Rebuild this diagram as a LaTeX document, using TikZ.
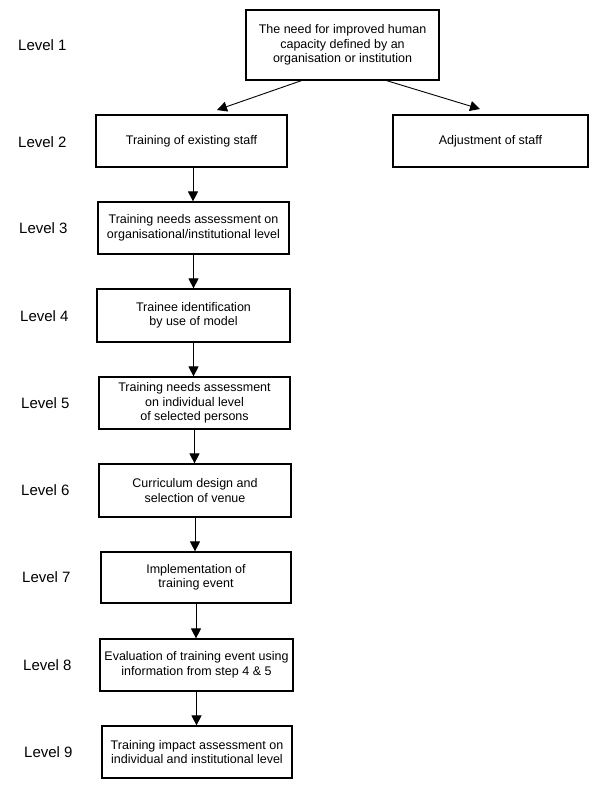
\documentclass[tikz,border=0pt]{standalone}
\usepackage{fontspec}
\setmainfont{Liberation Sans}
\usetikzlibrary{arrows.meta}
\tikzset{
  stepbox/.style={draw, line width=1.2pt, inner sep=0pt, align=center,
    font=\fontsize{12.5}{14.5}\selectfont},
  levellabel/.style={anchor=west, inner sep=0pt, font=\fontsize{15}{17}\selectfont},
  arr/.style={line width=0.9pt, -{Triangle[length=10pt,width=10pt]}}
}
\begin{document}
\begin{tikzpicture}[x=1pt,y=-1pt]
\useasboundingbox (0,0) rectangle (600,786);
\fill[white] (0,0) rectangle (600,786);
% boxes
\node[stepbox, minimum width=193pt, minimum height=70pt] (top) at (342.5,45)
  {The need for improved human\\capacity defined by an\\organisation or institution};
\node[stepbox, minimum width=191pt, minimum height=52pt] (l2) at (191.5,141)
  {Training of existing staff};
\node[stepbox, minimum width=195pt, minimum height=52pt] (adj) at (490.5,141)
  {Adjustment of staff};
\node[stepbox, minimum width=191pt, minimum height=52pt] (l3) at (193.5,228)
  {Training needs assessment on\\organisational/institutional level};
\node[stepbox, minimum width=193pt, minimum height=53pt] (l4) at (193.5,315.5)
  {Trainee identification\\by use of model};
\node[stepbox, minimum width=191pt, minimum height=52pt] (l5) at (194.5,403)
  {Training needs assessment\\on individual level\\of selected persons};
\node[stepbox, minimum width=192pt, minimum height=53pt] (l6) at (195,490.5)
  {Curriculum design and\\selection of venue};
\node[stepbox, minimum width=190pt, minimum height=51pt] (l7) at (196,577.5)
  {Implementation of\\training event};
\node[stepbox, minimum width=193pt, minimum height=52pt] (l8) at (196.5,665)
  {Evaluation of training event using\\information from step 4 \& 5};
\node[stepbox, minimum width=190pt, minimum height=52pt] (l9) at (197,752)
  {Training impact assessment on\\individual and institutional level};
% level labels
\node[levellabel] (lab1) at (18,45) {Level 1};
\node[levellabel] (lab2) at (18,142) {Level 2};
\node[levellabel] (lab3) at (19,228) {Level 3};
\node[levellabel] (lab4) at (20,316) {Level 4};
\node[levellabel] (lab5) at (21,403) {Level 5};
\node[levellabel] (lab6) at (21,490) {Level 6};
\node[levellabel] (lab7) at (22,577) {Level 7};
\node[levellabel] (lab8) at (23,665) {Level 8};
\node[levellabel] (lab9) at (24,752) {Level 9};
% connectors
\coordinate (tipL) at (217,110);
\coordinate (tipR) at (480,109);
\draw[arr] ([xshift=-41pt]top.south) -- (tipL);
\draw[arr] ([xshift=44pt]top.south) -- (tipR);
\draw[arr] ([xshift=1.5pt]l2.south) -- ([xshift=1.5pt]l2.south |- l3.north);
\draw[arr] (l3.south) -- (l3.south |- l4.north);
\draw[arr] (l4.south) -- (l4.south |- l5.north);
\draw[arr] (l5.south) -- (l5.south |- l6.north);
\draw[arr] (l6.south) -- (l6.south |- l7.north);
\draw[arr] (l7.south) -- (l7.south |- l8.north);
\draw[arr] (l8.south) -- (l8.south |- l9.north);
\end{tikzpicture}
\end{document}
